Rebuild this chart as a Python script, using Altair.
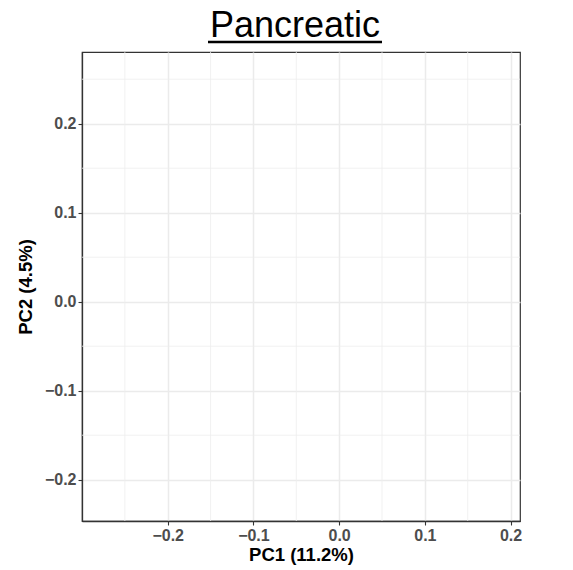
import altair as alt

# ---- data ----
title_text = ["Pancreatic"]
pc1_values = []          # no points visible in the reference
pc2_values = []
x_major = [-0.2, -0.1, 0.0, 0.1, 0.2]
y_major = [-0.2, -0.1, 0.0, 0.1, 0.2]
x_minor = [-0.25, -0.15, -0.05, 0.05, 0.15]
y_minor = [-0.15, -0.05, 0.05, 0.15, 0.25]
x_domain = [-0.300, 0.211]
y_domain = [-0.2464, 0.2806]

FONT = "Liberation Sans"

x_scale = alt.Scale(domain=x_domain, nice=False, zero=False)
y_scale = alt.Scale(domain=y_domain, nice=False, zero=False)

x_axis = alt.Axis(values=x_major, format=".1f", title="PC1 (11.2%)")
y_axis = alt.Axis(values=y_major, format=".1f", title="PC2 (4.5%)")

vminor = alt.Chart(alt.Data(values=[{"x": v} for v in x_minor])).mark_rule(
    color="#EDEDED", strokeWidth=0.8
).encode(x=alt.X("x:Q", scale=x_scale, axis=x_axis))

hminor = alt.Chart(alt.Data(values=[{"y": v} for v in y_minor])).mark_rule(
    color="#EDEDED", strokeWidth=0.8
).encode(y=alt.Y("y:Q", scale=y_scale, axis=y_axis))

points = alt.Chart(
    alt.Data(values=[{"pc1": a, "pc2": b} for a, b in zip(pc1_values, pc2_values)])
).mark_point(filled=True, size=30).encode(
    x=alt.X("pc1:Q", scale=x_scale, axis=x_axis),
    y=alt.Y("pc2:Q", scale=y_scale, axis=y_axis),
)

title = alt.Chart(alt.Data(values=[{"t": t} for t in title_text])).mark_text(
    font=FONT, fontSize=36, color="black", align="center", baseline="alphabetic"
).encode(text="t:N", x=alt.value(213), y=alt.value(-15))

underline = alt.Chart(alt.Data(values=[{"t": t} for t in title_text])).mark_rule(
    color="black", strokeWidth=2.5
).encode(x=alt.value(126), x2=alt.value(300), y=alt.value(-10))

chart = alt.layer(vminor, hminor, points, title, underline).properties(
    width=438,
    height=469,
    autosize=alt.AutoSizeParams(type="none"),
    padding={"left": 82, "top": 52, "right": 53, "bottom": 49},
).configure_view(
    stroke="#333333", strokeWidth=1.2
).configure_axis(
    domainColor="#333333",
    domainWidth=1.3,
    tickColor="#333333",
    tickSize=4,
    tickWidth=1.1,
    gridColor="#EBEBEB",
    gridWidth=1.5,
    labelColor="#4D4D4D",
    labelFont=FONT,
    labelFontWeight="bold",
    labelFontSize=16,
    labelPadding=2,
    titleFont=FONT,
    titleFontWeight="bold",
    titleFontSize=18.5,
    titleColor="black",
).configure_axisX(titlePadding=2).configure_axisY(titlePadding=9)

chart.save("out.html", embed_options={"renderer": "svg", "actions": False})
